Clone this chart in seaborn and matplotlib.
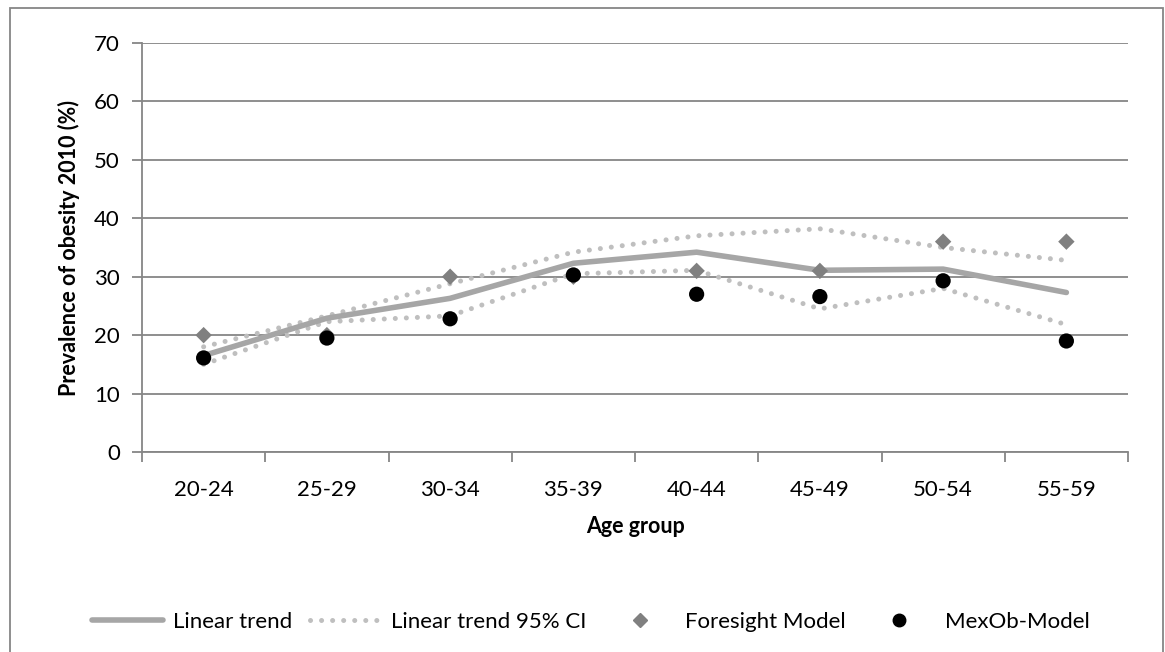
import numpy as np
import pandas as pd
import matplotlib.pyplot as plt
import seaborn as sns
from matplotlib.lines import Line2D
from matplotlib.patches import Rectangle

# Values
ages = ['20-24', '25-29', '30-34', '35-39', '40-44', '45-49', '50-54', '55-59']
trend = [16.5, 22.9, 26.3, 32.3, 34.2, 31.1, 31.3, 27.3]
ci_upper = [18.0, 23.3, 28.8, 34.2, 37.0, 38.2, 35.0, 32.8]
ci_lower = [15.0, 22.3, 23.3, 30.5, 31.1, 24.5, 28.0, 21.8]
foresight = [20, 20, 30, 30, 31, 31, 36, 36]
mexob = [16.1, 19.5, 22.8, 30.3, 27.0, 26.6, 29.3, 19.0]

df = pd.DataFrame({
    'age': ages,
    'trend': trend,
    'ci_upper': ci_upper,
    'ci_lower': ci_lower,
    'foresight': foresight,
    'mexob': mexob,
})

sns.set_style('white')
plt.rcParams['font.family'] = ['Lato', 'DejaVu Sans']
plt.rcParams['text.color'] = 'black'
plt.rcParams['axes.labelcolor'] = 'black'

grid_col = '#868686'

fig, ax = plt.subplots(figsize=(11.65, 6.52), dpi=100)
fig.subplots_adjust(left=142 / 1165, right=1128 / 1165, bottom=1 - 452 / 652, top=1 - 43 / 652)

# outer chart frame
fig.patches.append(Rectangle((10 / 1165, -0.01), 1153 / 1165, 1 - 8 / 652 + 0.01,
                             transform=fig.transFigure, fill=False,
                             edgecolor=grid_col, lw=1.3))

dots = (0, (0.01, 2.2))
sns.lineplot(data=df, x='age', y='ci_upper', ax=ax, color='#BFBFBF', lw=3.6,
             linestyle=dots, dash_capstyle='round', sort=False, zorder=2)
sns.lineplot(data=df, x='age', y='ci_lower', ax=ax, color='#BFBFBF', lw=3.6,
             linestyle=dots, dash_capstyle='round', sort=False, zorder=2)
sns.lineplot(data=df, x='age', y='trend', ax=ax, color='#A6A6A6', lw=4,
             sort=False, zorder=3)
sns.scatterplot(data=df, x='age', y='foresight', ax=ax, marker='D', s=70,
                color='#808080', edgecolor='none', zorder=4)
sns.scatterplot(data=df, x='age', y='mexob', ax=ax, marker='o', s=120,
                color='black', edgecolor='none', zorder=5)

ax.set_ylim(0, 70)
ax.set_xlim(-0.5, len(ages) - 0.5)
ax.set_yticks(range(0, 71, 10))
ax.set_xticks(range(len(ages)))
ax.set_xticklabels(ages)
ax.set_xticks(np.arange(-0.5, len(ages), 1), minor=True)

ax.yaxis.grid(True, color=grid_col, lw=1.3)
ax.set_axisbelow(True)
for side in ['top', 'right']:
    ax.spines[side].set_visible(False)
for side in ['left', 'bottom']:
    ax.spines[side].set_color(grid_col)
    ax.spines[side].set_linewidth(1.3)

ax.tick_params(axis='y', left=True, length=7, width=1.3, color=grid_col,
               labelcolor='black', labelsize=16, pad=9)
ax.tick_params(axis='x', which='major', bottom=False, length=0,
               labelcolor='black', labelsize=16, pad=20)
ax.tick_params(axis='x', which='minor', bottom=True, length=7, width=1.3, color=grid_col)

ax.set_xlabel('Age group', fontsize=15.5, fontweight='bold', labelpad=12)
ax.set_ylabel('Prevalence of obesity 2010 (%)', fontsize=15.5, fontweight='bold', labelpad=10)

handles = [
    Line2D([], [], color='#A6A6A6', lw=4),
    Line2D([], [], color='#BFBFBF', lw=3.6, linestyle=dots, dash_capstyle='round'),
    Line2D([], [], color='#808080', marker='D', markersize=7, linestyle='none'),
    Line2D([], [], color='black', marker='o', markersize=9, linestyle='none'),
]
labels = ['Linear trend', 'Linear trend 95% CI', 'Foresight Model', 'MexOb-Model']
fig.legend(handles, labels, loc='center', bbox_to_anchor=(0.507, 1 - 622 / 652),
           ncol=4, frameon=False, fontsize=16, handlelength=3.2,
           columnspacing=0.8, handletextpad=0.45)

plt.savefig('out.png', dpi=100)
